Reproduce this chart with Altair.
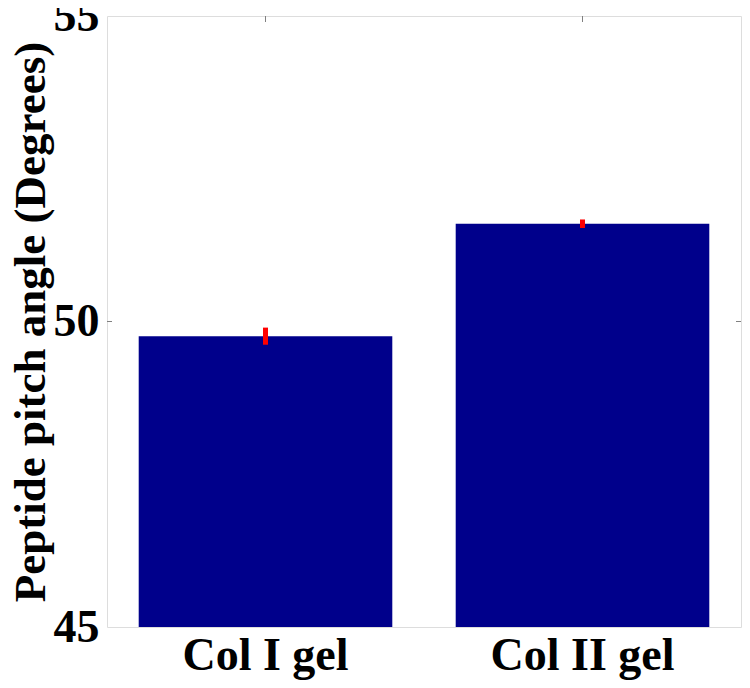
import altair as alt
import pandas as pd

categories = ["Col I gel", "Col II gel"]
values = [49.76, 51.60]
errors = [0.14, 0.07]
y_ticks = [45, 50, 55]
base = 45

df = pd.DataFrame({
    "cat": categories,
    "val": values,
    "lo": [v - e for v, e in zip(values, errors)],
    "hi": [v + e for v, e in zip(values, errors)],
    "base": [base] * len(categories),
})
tick_df = pd.DataFrame({"t": [50]})

FONT = "Liberation Serif"
W, H = 634, 611
xscale = alt.Scale(domain=categories, paddingInner=0.2, paddingOuter=0.1)
yscale = alt.Scale(domain=[45, 55], zero=False, nice=False)

x_enc = alt.X("cat:N", scale=xscale, sort=categories,
              axis=alt.Axis(title=None, labelAngle=0, ticks=False, domain=False,
                            labelFont=FONT, labelFontSize=46, labelFontWeight="bold",
                            labelColor="black", labelPadding=6, labelLimit=0))
y_enc = alt.Y("val:Q", scale=yscale,
              axis=alt.Axis(title="Peptide pitch angle (Degrees)", values=y_ticks,
                            format="d",
                            ticks=False, domain=False, grid=False,
                            labelFont=FONT, labelFontSize=46, labelFontWeight="bold",
                            labelColor="black", labelPadding=8,
                            titleFont=FONT, titleFontSize=45, titleFontWeight="bold",
                            titleColor="black", titlePadding=0))

bars = alt.Chart(df).mark_bar(color="#00008B").encode(
    x=x_enc, y=y_enc, y2=alt.Y2("base:Q")
)
err = alt.Chart(df).mark_rule(color="#FF0000", strokeWidth=5).encode(
    x=alt.X("cat:N", scale=xscale, sort=categories),
    y=alt.Y("lo:Q", scale=yscale), y2="hi:Q"
)
lt = alt.Chart(tick_df).mark_rule(color="#808080").encode(
    x=alt.value(0), x2=alt.value(5), y=alt.Y("t:Q", scale=yscale)
)
rt = alt.Chart(tick_df).mark_rule(color="#808080").encode(
    x=alt.value(W - 5), x2=alt.value(W), y=alt.Y("t:Q", scale=yscale)
)
tt = alt.Chart(df).mark_rule(color="#808080").encode(
    x=alt.X("cat:N", scale=xscale, sort=categories), y=alt.value(0), y2=alt.value(6)
)

chart = alt.layer(bars, err, lt, rt, tt).properties(
    width=W, height=H,
    autosize=alt.AutoSizeParams(type="none"),
    padding={"left": 99, "top": 8, "right": 1, "bottom": 53},
).configure_view(stroke="#808080", strokeWidth=1).configure(background="white")

chart.save("out.html", embed_options={"renderer": "svg", "actions": False})
